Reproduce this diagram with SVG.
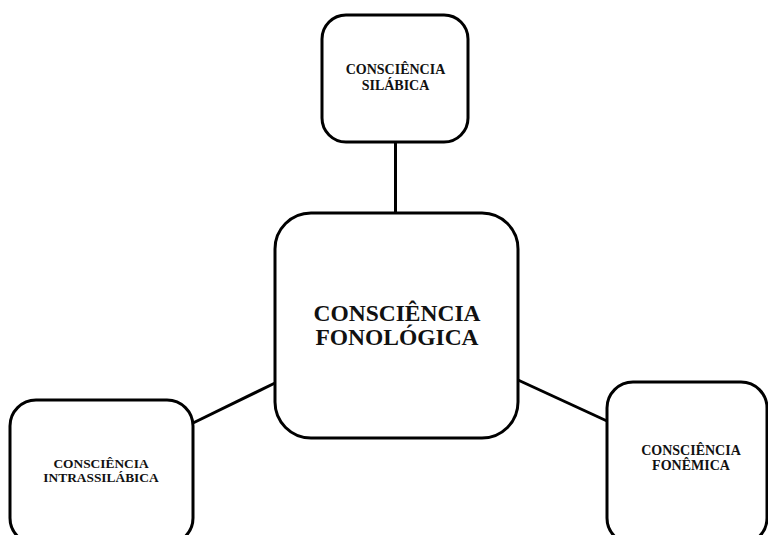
<svg xmlns="http://www.w3.org/2000/svg" width="768" height="535" viewBox="0 0 768 535">
<style>
.box{fill:#fff;stroke:#000;stroke-width:3}
.link{stroke:#000;stroke-width:3;fill:none}
text{font-family:"Liberation Serif","Times New Roman",serif;font-weight:bold;fill:#111;text-anchor:middle}
</style>
<rect width="768" height="535" fill="#fff"/>
<g id="connectors">
<line class="link" x1="395.5" y1="142" x2="395.5" y2="213"/>
<line class="link" x1="193" y1="423" x2="275" y2="383"/>
<line class="link" x1="518" y1="380" x2="607" y2="421"/>
</g>
<g id="silabica">
<rect class="box" x="322" y="15" width="146" height="127" rx="24"/>
<text x="395.5" y="74" font-size="14">CONSCIÊNCIA</text>
<text x="395.5" y="90" font-size="14">SILÁBICA</text>
</g>
<g id="fonologica">
<rect class="box" x="275" y="213" width="243" height="225" rx="36"/>
<text x="397" y="321" font-size="23.5">CONSCIÊNCIA</text>
<text x="397" y="345" font-size="23.5">FONOLÓGICA</text>
</g>
<g id="intrassilabica">
<rect class="box" x="10" y="400" width="183" height="144" rx="26"/>
<text x="101" y="468" font-size="13.4">CONSCIÊNCIA</text>
<text x="101" y="482" font-size="13.4">INTRASSILÁBICA</text>
</g>
<g id="fonemica">
<rect class="box" x="607" y="382" width="160" height="162" rx="26"/>
<text x="691" y="455" font-size="14">CONSCIÊNCIA</text>
<text x="691" y="470" font-size="14">FONÊMICA</text>
</g>
</svg>
